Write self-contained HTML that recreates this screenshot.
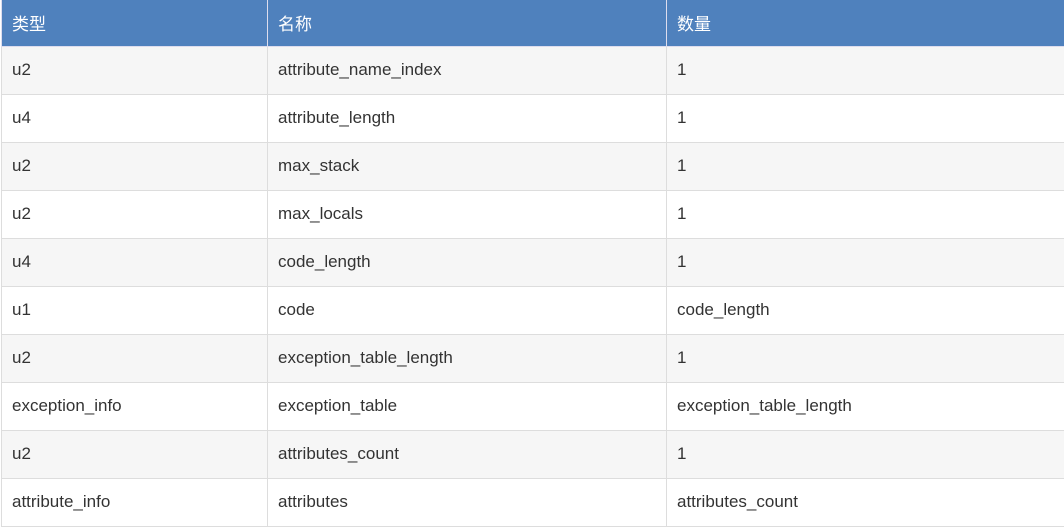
<!DOCTYPE html>
<html><head><meta charset="utf-8"><style>
body{margin:0;width:1064px;height:530px;background:#fff;overflow:hidden;font-family:"Liberation Sans","Noto Sans CJK SC",sans-serif;}
table{position:absolute;left:1px;top:0;border-collapse:collapse;table-layout:fixed;width:1064px;}
td,th{border:1px solid #dddddd;height:48px;padding:0 0 0 10px;font-size:17px;color:#333;text-align:left;font-weight:normal;box-sizing:border-box;white-space:nowrap}
th{background:#4f81bd;color:#fff;height:46px;border-color:#dde;border-top:none;}
tr:nth-child(even) td{background:#f6f6f6;}
tr:nth-child(odd) td{background:#fff;}
</style></head><body>
<table>
<colgroup><col style="width:266px"><col style="width:399px"><col style="width:399px"></colgroup>
<tr><th>类型</th><th>名称</th><th>数量</th></tr>
<tr><td>u2</td><td>attribute_name_index</td><td>1</td></tr>
<tr><td>u4</td><td>attribute_length</td><td>1</td></tr>
<tr><td>u2</td><td>max_stack</td><td>1</td></tr>
<tr><td>u2</td><td>max_locals</td><td>1</td></tr>
<tr><td>u4</td><td>code_length</td><td>1</td></tr>
<tr><td>u1</td><td>code</td><td>code_length</td></tr>
<tr><td>u2</td><td>exception_table_length</td><td>1</td></tr>
<tr><td>exception_info</td><td>exception_table</td><td>exception_table_length</td></tr>
<tr><td>u2</td><td>attributes_count</td><td>1</td></tr>
<tr><td>attribute_info</td><td>attributes</td><td>attributes_count</td></tr>
</table>
</body></html>
